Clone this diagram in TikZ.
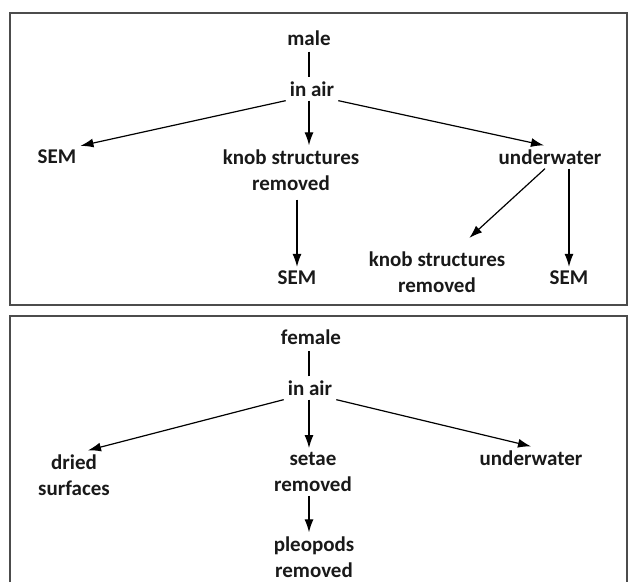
\documentclass[tikz,border=0pt]{standalone}
\usepackage{fontspec}
\setmainfont{Carlito}
\usetikzlibrary{arrows.meta}

\begin{document}
\begin{tikzpicture}[x=1pt, y=-1pt,
  every node/.style={font=\fontsize{21}{26}\selectfont\bfseries, align=center, inner sep=4pt, text=black!90},
  arrow/.style={-{Latex[length=13pt,width=9pt]}, line width=1.2pt},
  link/.style={line width=1.2pt},
  panel/.style={draw=black!70, line width=1.6pt}]

\useasboundingbox (0,0) rectangle (629,582);

%okviri
\draw[panel] (10,13) rectangle (627,305);
\draw[panel] (10,582) |- (627,316) -- (627,582);

%male: first level
\node (male) at (309,38) {male};
\node (air1) at (312,89) {in air};

%male: second level
\node (sem1) at (57,157) {SEM};
\node (knob1) at (291,170) {knob structures\\removed};
\node (uw1) at (550,157) {underwater};

%male: third level
\node (sem2) at (297,278) {SEM};
\node (knob2) at (437,272) {knob structures\\removed};
\node (sem3) at (569,278) {SEM};

%male: connectors
\draw[link, shorten <=2pt] (male) -- (male |- air1.north);
\draw[arrow] (air1.south west) -- (sem1.north east);
\draw[arrow] (air1.south -| male) -- (knob1.north -| male);
\draw[arrow] (air1.south east) -- ([xshift=-6pt]uw1.north);
\draw[arrow, shorten <=5pt] (sem2 |- knob1.south) -- (sem2);
\draw[arrow, shorten >=14pt] ([xshift=-5pt]uw1.south) -- ([xshift=22pt]knob2.north);
\draw[arrow] (sem3 |- uw1.south) -- (sem3);

%female: first level
\node (female) at (311,337) {female};
\node (air2) at (310,388) {in air};

%female: second level
\node (dried) at (74,475) {dried\\surfaces};
\node (setae) at (313,472) {setae\\removed};
\node (uw2) at (531,458) {underwater};

%female: third level
\node (pleo) at (314,557) {pleopods\\removed};

%female: connectors
\draw[link, shorten >=2pt] (air2.north -| male) -- (female.south -| male);
\draw[arrow] (air2.south west) -- ([xshift=14pt]dried.north);
\draw[arrow] (air2.south -| male) -- (setae.north -| male);
\draw[arrow] (air2.south east) -- (uw2.north);
\draw[arrow] (setae.south -| male) -- (pleo.north -| male);

\end{tikzpicture}
\end{document}
